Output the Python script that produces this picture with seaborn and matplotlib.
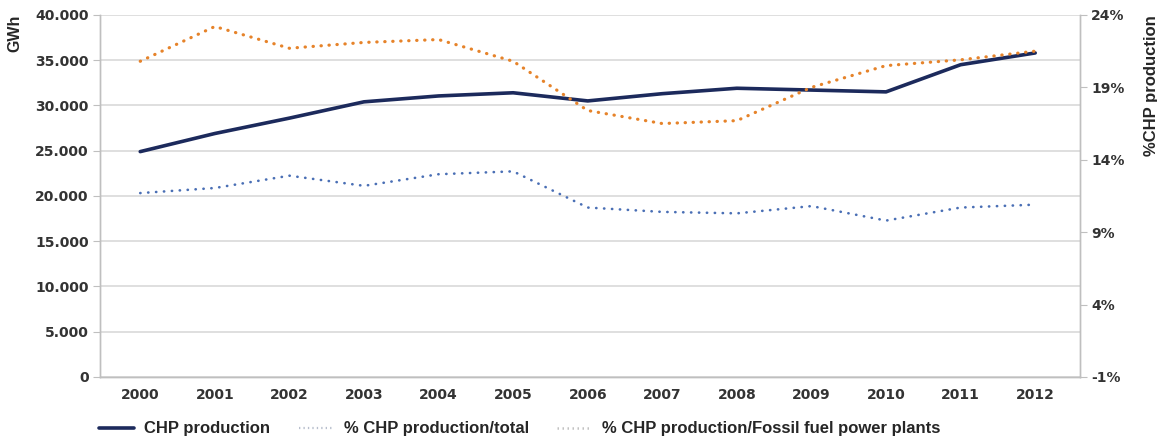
import matplotlib
matplotlib.use("Agg")
import matplotlib.pyplot as plt
from matplotlib.ticker import FuncFormatter, FixedLocator
import seaborn as sns
import pandas as pd

years = [2000, 2001, 2002, 2003, 2004, 2005, 2006, 2007, 2008, 2009, 2010, 2011, 2012]
chp_gwh = [24900, 26900, 28600, 30400, 31050, 31400, 30500, 31300, 31900, 31700, 31500, 34500, 35800]
pct_total = [11.7, 12.05, 12.9, 12.2, 13.0, 13.2, 10.7, 10.4, 10.3, 10.8, 9.8, 10.7, 10.9]
pct_fossil = [20.8, 23.2, 21.7, 22.1, 22.3, 20.8, 17.4, 16.5, 16.7, 19.0, 20.5, 20.9, 21.5]

df = pd.DataFrame({"idx": range(len(years)), "chp": chp_gwh,
                   "total": pct_total, "fossil": pct_fossil})

sns.set_style("white")
plt.rcParams['font.family'] = ['DejaVu Sans']

fig = plt.figure(figsize=(11.57, 4.47), dpi=100)
ax = fig.add_axes([0.0864, 0.1566, 0.847, 0.81])
ax2 = ax.twinx()

navy = "#1c2a5c"
orange = "#e6832a"
blue = "#4a6fb5"
tick_col = "#333333"
grid_col = "#d9d9d9"

sns.lineplot(data=df, x="idx", y="chp", ax=ax, color=navy, linewidth=2.6, zorder=3)
sns.lineplot(data=df, x="idx", y="total", ax=ax2, color=blue, linewidth=1.9,
             linestyle=(0, (0.1, 2.9)), dash_capstyle="round")
sns.lineplot(data=df, x="idx", y="fossil", ax=ax2, color=orange, linewidth=2.3,
             linestyle=(0, (0.1, 2.4)), dash_capstyle="round")

ax.set_xlim(-0.54, 12.6)
ax.set_ylim(0, 40000)
ax.set_yticks(range(0, 40001, 5000))
ax.yaxis.set_major_formatter(FuncFormatter(lambda v, p: f"{v:,.0f}".replace(",", ".")))
ax.set_xticks(range(len(years)))
ax.set_xticklabels([str(y) for y in years])
ax.xaxis.set_minor_locator(FixedLocator([i + 0.5 for i in range(-1, len(years))]))

ax2.set_ylim(-1, 24)
ax2.set_yticks([-1, 4, 9, 14, 19, 24])
ax2.yaxis.set_major_formatter(FuncFormatter(lambda v, p: f"{v:.0f}%"))

ax.grid(axis="y", color=grid_col, linewidth=1.2)
ax.set_axisbelow(True)
for a in (ax, ax2):
    a.spines["top"].set_visible(False)
    for side in ("left", "right", "bottom"):
        a.spines[side].set_color("#bfbfbf")
        a.spines[side].set_linewidth(1.0)

ax.tick_params(axis="y", length=5, color="#bfbfbf", labelsize=10, labelcolor=tick_col, pad=3)
ax.tick_params(axis="x", which="major", length=0, labelsize=10, labelcolor=tick_col, pad=8)
ax.tick_params(axis="x", which="minor", length=5, color="#bfbfbf")
ax2.tick_params(axis="y", length=5, color="#bfbfbf", labelsize=10, labelcolor=tick_col, pad=3)
for lab in ax.get_xticklabels() + ax.get_yticklabels() + ax2.get_yticklabels():
    lab.set_fontweight("bold")

ax.set_xlabel("")
ax.set_ylabel("GWh", fontsize=11.5, fontweight="bold", family="Liberation Sans", loc="top", labelpad=9)
ax2.set_ylabel("%CHP production", fontsize=12, fontweight="bold", family="Liberation Sans",
               loc="top", labelpad=14)

handles = [
    plt.Line2D([], [], color=navy, linewidth=2.6),
    plt.Line2D([], [], color="#9aa4b8", linewidth=1.6, linestyle=(0, (0.6, 1.4)), alpha=0.7),
    plt.Line2D([], [], color="#a8a8a8", linewidth=1.8, linestyle=(0, (0.6, 1.4)), alpha=0.7),
]
labels = ["CHP production", "% CHP production/total", "% CHP production/Fossil fuel power plants"]
fig.legend(handles, labels, loc="lower left", bbox_to_anchor=(0.073, -0.01), ncol=3,
           frameon=False, prop={"family": "Liberation Sans", "weight": "bold", "size": 12},
           handlelength=2.1, columnspacing=1.7, handletextpad=0.6)

fig.savefig("out.png", dpi=100)
